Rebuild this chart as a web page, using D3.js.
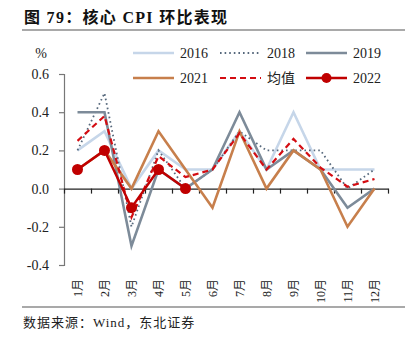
<!DOCTYPE html>
<html>
<head>
<meta charset="utf-8">
<script src="https://cdn.jsdelivr.net/npm/d3@7"></script>
<style>
  html, body { margin: 0; padding: 0; background: #fff; }
  svg { display: block; }
  .serif { font-family: "Liberation Serif", "Times New Roman", "Noto Sans CJK SC", serif; }
</style>
</head>
<body>
<svg id="chart" width="417" height="341"></svg>
<script>
// Core CPI month-on-month change, %
const months = ["1月", "2月", "3月", "4月", "5月", "6月", "7月", "8月", "9月", "10月", "11月", "12月"];
const yTicks = [-0.4, -0.2, 0.0, 0.2, 0.4, 0.6];

const v2016 = [0.2, 0.3, 0.0, 0.2, 0.1, 0.1, 0.3, 0.1, 0.4, 0.1, 0.1, 0.1];
const v2018 = [0.2, 0.5, -0.2, 0.2, 0.0, 0.1, 0.3, 0.2, 0.2, 0.2, 0.0, 0.1];
const v2019 = [0.4, 0.4, -0.3, 0.1, 0.0, 0.1, 0.4, 0.1, 0.2, 0.1, -0.1, 0.0];
const v2021 = [0.1, 0.2, 0.0, 0.3, 0.1, -0.1, 0.3, 0.0, 0.2, 0.1, -0.2, 0.0];
const vMean = [0.25, 0.38, -0.15, 0.17, 0.06, 0.1, 0.29, 0.1, 0.26, 0.11, 0.01, 0.05];
const v2022 = [0.1, 0.2, -0.1, 0.1, 0.0];

const series = [
  { name: "2016", values: v2016, color: "#c6d6e9", width: 2.6, dash: null },
  { name: "2018", values: v2018, color: "#56687c", width: 1.8, dash: "1.6,3" },
  { name: "2019", values: v2019, color: "#7d8b99", width: 2.6, dash: null },
  { name: "2021", values: v2021, color: "#c77f4c", width: 2.6, dash: null },
  { name: "均值", values: vMean, color: "#d40d12", width: 2.2, dash: "6,4" },
  { name: "2022", values: v2022, color: "#c00000", width: 2.4, dash: null, dots: true }
];

const svg = d3.select("#chart");
const plotLeft = 64, plotRight = 388, plotTop = 74, plotBottom = 265;

const x = d3.scaleBand().domain(months).range([plotLeft, plotRight]);
const xEdge = d3.scaleLinear().domain([0, months.length]).range([plotLeft, plotRight]);
const y = d3.scaleLinear().domain([-0.4, 0.6]).range([plotBottom, plotTop]);

// Title and rules
svg.append("text").attr("class", "serif")
  .attr("x", 24).attr("y", 23)
  .attr("font-size", 16).attr("font-weight", "bold").attr("fill", "#111")
  .attr("letter-spacing", 1.3)
  .text("图  79：核心 CPI 环比表现");
svg.append("line").attr("x1", 22).attr("x2", 405).attr("y1", 30).attr("y2", 30)
  .attr("stroke", "#555").attr("stroke-width", 1.2);
svg.append("line").attr("x1", 22).attr("x2", 405).attr("y1", 307).attr("y2", 307)
  .attr("stroke", "#555").attr("stroke-width", 1.2);
svg.append("text").attr("class", "serif")
  .attr("x", 23).attr("y", 327)
  .attr("font-size", 13).attr("fill", "#222")
  .attr("letter-spacing", 1)
  .text("数据来源：Wind，东北证券");

// Unit
svg.append("text").attr("class", "serif")
  .attr("x", 41).attr("y", 58).attr("text-anchor", "middle")
  .attr("font-size", 14).attr("fill", "#222").text("%");

// Y axis
const fmt = d => d3.format(".1f")(d).replace("−", "-");
const yAxis = svg.append("g").attr("transform", `translate(${plotLeft},0)`)
  .call(d3.axisLeft(y).tickValues(yTicks).tickFormat(fmt).tickSize(5).tickPadding(10));
yAxis.select(".domain").attr("stroke", "#777").attr("stroke-width", 1.2);
yAxis.selectAll(".tick line").attr("stroke", "#777").attr("stroke-width", 1.2);
yAxis.selectAll("text").attr("class", "serif").attr("font-size", 14).attr("fill", "#222");

// X axis at zero, ticks at month boundaries
const xAxis = svg.append("g").attr("transform", `translate(0,${y(0)})`)
  .call(d3.axisBottom(xEdge).tickValues(d3.range(0, months.length + 1)).tickFormat("").tickSize(5).tickSizeOuter(0));
xAxis.select(".domain").attr("stroke", "#222").attr("stroke-width", 1.3);
xAxis.selectAll(".tick line").attr("stroke", "#222").attr("stroke-width", 1.2);

// Month labels, rotated
svg.append("g").selectAll("text").data(months).join("text")
  .attr("class", "serif")
  .attr("transform", d => `translate(${x(d) + x.bandwidth() / 2 + 4},279) rotate(-90)`)
  .attr("text-anchor", "end")
  .attr("font-size", 12).attr("fill", "#222")
  .text(d => d);

// Lines
const line = d3.line()
  .x((d, i) => x(months[i]) + x.bandwidth() / 2)
  .y(d => y(d));

series.forEach(s => {
  svg.append("path")
    .datum(s.values)
    .attr("d", line)
    .attr("fill", "none")
    .attr("stroke", s.color)
    .attr("stroke-width", s.width)
    .attr("stroke-dasharray", s.dash)
    .attr("stroke-linejoin", "miter");
  if (s.dots) {
    svg.append("g").selectAll("circle").data(s.values).join("circle")
      .attr("cx", (d, i) => x(months[i]) + x.bandwidth() / 2)
      .attr("cy", d => y(d))
      .attr("r", 5.5)
      .attr("fill", s.color);
  }
});

// Legend
const legendPos = [
  { x: 133, y: 53 }, { x: 220, y: 53 }, { x: 306, y: 53 },
  { x: 133, y: 78 }, { x: 220, y: 78 }, { x: 306, y: 78 }
];
const legendOrder = ["2016", "2018", "2019", "2021", "均值", "2022"];
legendOrder.forEach((name, i) => {
  const s = series.find(d => d.name === name);
  const p = legendPos[i];
  const g = svg.append("g").attr("transform", `translate(${p.x},${p.y})`);
  g.append("line").attr("x1", 0).attr("x2", 41).attr("y1", 0).attr("y2", 0)
    .attr("stroke", s.color).attr("stroke-width", s.width)
    .attr("stroke-dasharray", s.dash);
  if (s.dots) g.append("circle").attr("cx", 20.5).attr("cy", 0).attr("r", 5).attr("fill", s.color);
  g.append("text").attr("class", "serif")
    .attr("x", 47).attr("y", 5)
    .attr("font-size", 14).attr("fill", "#222")
    .text(name);
});
</script>
</body>
</html>
